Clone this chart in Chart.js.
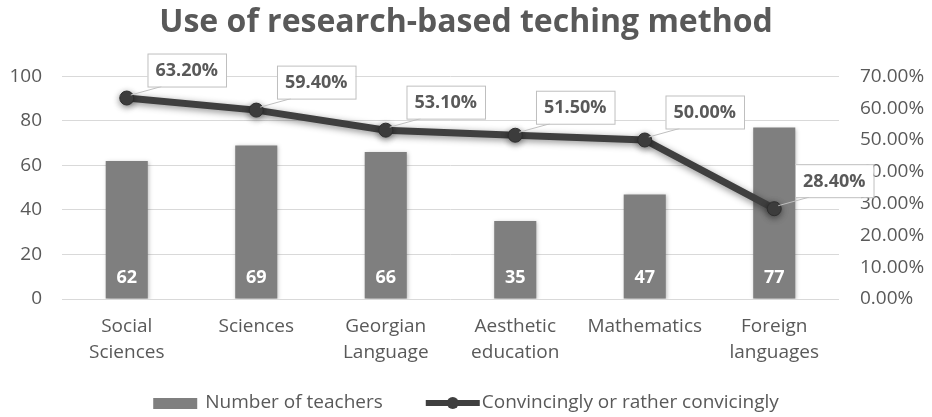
<!DOCTYPE html>
<html lang="en">
<head>
  <meta charset="UTF-8" />
  <title>Use of research-based teching method</title>
  <style>
    html, body { margin: 0; padding: 0; background: #ffffff; }
    #wrap { width: 932px; height: 417px; position: relative; }
  </style>
</head>
<body>
  <div id="wrap"><canvas id="chart"></canvas></div>
  <script src="https://cdn.jsdelivr.net/npm/chart.js"></script>
  <script>
    // chart data
    const categories = [['Social', 'Sciences'], ['Sciences'], ['Georgian', 'Language'], ['Aesthetic', 'education'], ['Mathematics'], ['Foreign', 'languages']];
    const teacherCounts = [62, 69, 66, 35, 47, 77];
    const convincingShare = [63.2, 59.4, 53.1, 51.5, 50.0, 28.4];
    const seriesNames = ['Number of teachers', 'Convincingly or rather convicingly'];

    const FONT = '"Open Sans", sans-serif';
    const TEXT = '#595959';
    const BAR = '#7f7f7f';
    const LINE = '#3f3f3f';

    // soft shadow under the bars and the line, like the office chart
    const shadowPlugin = {
      id: 'shadow',
      beforeDatasetDraw(chart, args) {
        const ctx = chart.ctx;
        ctx.save();
        if (args.meta.type === 'line') {
          ctx.shadowColor = 'rgba(0,0,0,0.45)';
          ctx.shadowBlur = 7;
          ctx.shadowOffsetY = 2;
        } else {
          ctx.shadowColor = 'rgba(0,0,0,0.25)';
          ctx.shadowBlur = 4;
          ctx.shadowOffsetX = 1;
          ctx.shadowOffsetY = 1;
        }
      },
      afterDatasetDraw(chart) {
        chart.ctx.restore();
      }
    };

    // value labels: white numbers in the bars, boxed percents with leader lines for the line
    const labelPlugin = {
      id: 'valueLabels',
      afterDatasetsDraw(chart) {
        const ctx = chart.ctx;
        const barMeta = chart.getDatasetMeta(0);
        const lineMeta = chart.getDatasetMeta(1);
        const yBase = chart.scales.y.getPixelForValue(0);
        ctx.save();
        ctx.font = 'bold 18px ' + FONT;
        ctx.textAlign = 'center';
        ctx.textBaseline = 'middle';
        ctx.fillStyle = '#ffffff';
        barMeta.data.forEach((bar, i) => {
          ctx.fillText(String(teacherCounts[i]), bar.x, yBase - 21);
        });

        lineMeta.data.forEach((pt, i) => {
          const txt = convincingShare[i].toFixed(2) + '%';
          const w = ctx.measureText(txt).width + 16;
          const h = 33;
          const cx = pt.x + 60;
          const cy = pt.y - 28;
          const left = cx - w / 2;
          const top = cy - h / 2;
          // leader line
          ctx.strokeStyle = '#bfbfbf';
          ctx.lineWidth = 1;
          ctx.beginPath();
          ctx.moveTo(pt.x + 4, pt.y - 3);
          ctx.lineTo(left + 14, top + h);
          ctx.stroke();
          ctx.fillStyle = '#ffffff';
          ctx.fillRect(left, top, w, h);
          ctx.strokeRect(left + 0.5, top + 0.5, w, h);
          ctx.fillStyle = TEXT;
          ctx.fillText(txt, cx, cy + 1);
        });
        ctx.restore();
      }
    };

    // legend drawn below the axis labels
    const legendPlugin = {
      id: 'bottomLegend',
      afterDraw(chart) {
        const ctx = chart.ctx;
        const y = 403;
        ctx.save();
        ctx.font = '19px ' + FONT;
        ctx.textBaseline = 'middle';
        ctx.textAlign = 'left';
        const w0 = ctx.measureText(seriesNames[0]).width;
        const w1 = ctx.measureText(seriesNames[1]).width;
        const total = 44 + 8 + w0 + 43 + 56 + w1;
        let x = (chart.width - total) / 2;
        ctx.fillStyle = BAR;
        ctx.fillRect(x, y - 5, 44, 11);
        x += 52;
        ctx.fillStyle = TEXT;
        ctx.fillText(seriesNames[0], x, y);
        x += w0 + 43;
        ctx.strokeStyle = LINE;
        ctx.lineWidth = 6;
        ctx.beginPath();
        ctx.moveTo(x, y);
        ctx.lineTo(x + 54, y);
        ctx.stroke();
        ctx.fillStyle = LINE;
        ctx.beginPath();
        ctx.arc(x + 27, y, 6, 0, Math.PI * 2);
        ctx.fill();
        x += 56;
        ctx.fillStyle = TEXT;
        ctx.fillText(seriesNames[1], x, y);
        ctx.restore();
      }
    };

    const ctx = document.getElementById('chart').getContext('2d');
    new Chart(ctx, {
      data: {
        labels: categories,
        datasets: [
          {
            type: 'bar',
            label: seriesNames[0],
            data: teacherCounts,
            backgroundColor: BAR,
            yAxisID: 'y',
            order: 1,
            categoryPercentage: 1,
            barPercentage: 0.325
          },
          {
            type: 'line',
            label: seriesNames[1],
            data: convincingShare,
            borderColor: LINE,
            backgroundColor: LINE,
            borderWidth: 7,
            pointRadius: 7,
            pointBackgroundColor: LINE,
            pointBorderColor: '#2e2e2e',
            pointBorderWidth: 1,
            tension: 0,
            yAxisID: 'y1',
            order: 0
          }
        ]
      },
      options: {
        responsive: true,
        maintainAspectRatio: false,
        animation: false,
        layout: { padding: { left: 0, right: 0, top: 0, bottom: 48 } },
        plugins: {
          legend: { display: false },
          tooltip: { enabled: false },
          title: {
            display: true,
            text: 'Use of research-based teching method',
            color: TEXT,
            font: { family: FONT, size: 32, weight: 'bold' },
            padding: { top: 4, bottom: 34 }
          }
        },
        scales: {
          x: {
            grid: { display: false, drawTicks: false },
            border: { display: false },
            ticks: {
              color: TEXT,
              padding: 15,
              maxRotation: 0,
              autoSkip: false,
              font: { family: FONT, size: 19, lineHeight: 1.37 }
            },
            afterFit(scale) { scale.height = 70; }
          },
          y: {
            position: 'left',
            min: 0,
            max: 100,
            grid: { color: '#d9d9d9', lineWidth: 1, drawTicks: false },
            border: { display: false },
            ticks: {
              stepSize: 20,
              color: TEXT,
              padding: 20,
              font: { family: FONT, size: 19 }
            },
            afterFit(scale) { scale.width = 62; }
          },
          y1: {
            position: 'right',
            min: 0,
            max: 70,
            grid: { display: false, drawTicks: false },
            border: { display: false },
            ticks: {
              stepSize: 10,
              color: TEXT,
              padding: 21,
              font: { family: FONT, size: 19 },
              callback: v => v.toFixed(2) + '%'
            },
            afterFit(scale) { scale.width = 93; }
          }
        }
      },
      plugins: [shadowPlugin, labelPlugin, legendPlugin]
    });
  </script>
</body>
</html>
